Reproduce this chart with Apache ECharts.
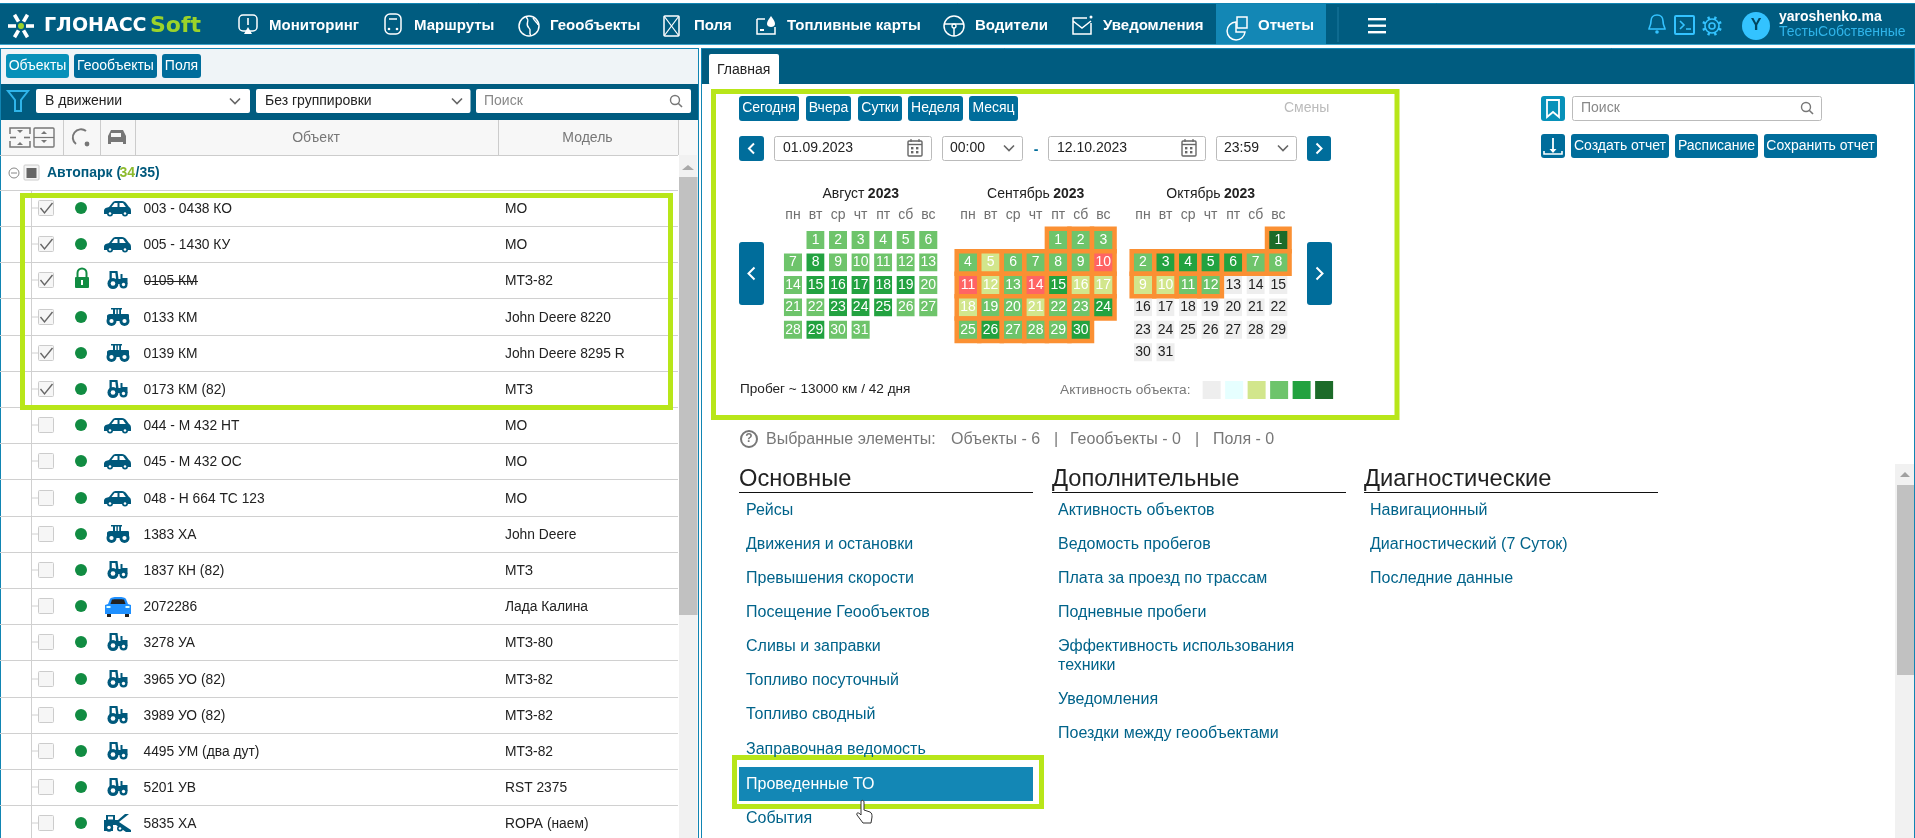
<!DOCTYPE html>
<html>
<head>
<meta charset="utf-8">
<title>Отчеты</title>
<script src="https://cdn.jsdelivr.net/npm/echarts@6/dist/echarts.min.js"></script>
<style>
html,body{margin:0;padding:0;background:#fff;}
#main{width:1915px;height:838px;}
</style>
</head>
<body>
<div id="main"></div>
<script>
// calendar data: activity level per day, 0..5 as in the legend, 6 = red day
var augLevels=[3,3,3,3,3,3,3,4,3,3,3,3,3,3,4,4,4,4,4,3,3,3,4,4,4,3,3,3,4,3,3];
var sepLevels=[3,3,3,3,2,3,3,3,3,6,6,2,3,6,4,2,2,2,3,3,2,3,3,4,3,4,3,3,3,4];
var octLevels=[5,3,4,4,4,4,3,3,2,2,3,3,0,0,0,0,0,0,0,0,0,0,0,0,0,0,0,0,0,0,0];
var calMonths=['2023-08','2023-09','2023-10'];
var calTitles=['Август','Сентябрь','Октябрь'];
var calYear='2023';
var calLevels=[augLevels,sepLevels,octLevels];
var calLefts=[781.7,956.7,1131.7];
var rangeFrom='2023-09-01';
var rangeTo='2023-10-12';
var dayNames=['вс','пн','вт','ср','чт','пт','сб'];
var levelColors=['#eeeeee','#e6ffff','#d2e68c','#6ec46b','#22a240','#1c6b29'];

// object list
var objectNames=['003 - 0438 КО','005 - 1430 КУ','0105 КМ','0133 КМ','0139 КМ','0173 КМ (82)','044 - М 432 НТ','045 - М 432 ОС','048 - Н 664 ТС 123','1383 ХА','1837 КН (82)','2072286','3278 УА','3965 УО (82)','3989 УО (82)','4495 УМ (два дут)','5201 УВ','5835 ХА'];
var objectModels=['МО','МО','МТЗ-82','John Deere 8220','John Deere 8295 R','МТЗ','МО','МО','МО','John Deere','МТЗ','Лада Калина','МТЗ-80','МТЗ-82','МТЗ-82','МТЗ-82','RST 2375','ROPA (наем)'];
var objectKinds=['car','car','small','big','big','small','car','car','car','big','small','lada','small','small','small','small','small','combine'];
var checkedCount=6;

var navItems=['Мониторинг','Маршруты','Геообъекты','Поля','Топливные карты','Водители','Уведомления','Отчеты'];
var navTextX=[269,414,550,694,787,975,1103,1258];
var linksMain=['Рейсы','Движения и остановки','Превышения скорости','Посещение Геообъектов','Сливы и заправки','Топливо посуточный','Топливо сводный','Заправочная ведомость','Проведенные ТО','События'];
var linksMainY=[511,545,579,613,647,681,715,750,785,819];
var linksExtra=['Активность объектов','Ведомость пробегов','Плата за проезд по трассам','Подневные пробеги','Эффективность использования','техники','Уведомления','Поездки между геообъектами'];
var linksExtraY=[511,545,579,613,647,666,700,734];
var linksDiag=['Навигационный','Диагностический (7 Суток)','Последние данные'];
var linksDiagY=[511,545,579];

var FONT='"Liberation Sans",Arial,sans-serif';
var DARK='#005c80', BTN='#006d9b', LIGHTBTN='#0791b9', EDGE='#1185b3', LIME='#b8e619', ORANGE='#fb9033';
var els=[];
var shapeCount=0;

function box(x,y,w,h,fill,r,stroke,lw){
	els.push({type:'rect',silent:true,shape:{x:x,y:y,width:w,height:h,r:r||0},style:{fill:fill||'none',stroke:stroke||'none',lineWidth:lw||1}});
}
function txt(x,y,s,size,color,weight,align,family){
	els.push({type:'text',silent:true,style:{x:x,y:y,text:s,fill:color||'#222',align:align||'left',verticalAlign:'middle',font:(weight||'normal')+' '+size+'px '+(family||FONT)}});
}
function seg(x1,y1,x2,y2,color,lw){
	els.push({type:'line',silent:true,shape:{x1:x1,y1:y1,x2:x2,y2:y2},style:{stroke:color,lineWidth:lw||1}});
}
function dot(cx,cy,r,fill,stroke,lw){
	els.push({type:'circle',silent:true,shape:{cx:cx,cy:cy,r:r},style:{fill:fill||'none',stroke:stroke||'none',lineWidth:lw||1}});
}
// graphic has no plain path type, so every icon outline is registered as a shape
function path(d,x,y,fill,stroke,lw){
	var name='ico'+(shapeCount++);
	echarts.graphic.registerShape(name,echarts.graphic.extendPath(d,{}));
	els.push({type:name,silent:true,x:x,y:y,style:{fill:fill||'none',stroke:stroke||'none',lineWidth:lw||1}});
}
function button(x,y,w,h,label,color){
	box(x,y,w,h,color||BTN,3);
	txt(x+w/2,y+h/2,label,14,'#fff','normal','center');
}
function chevron(cx,cy,color,dir,s){
	s=s||5;
	if(dir=='down') path('M'+(-s)+' '+(-s/2)+' L0 '+(s/2)+' L'+s+' '+(-s/2),cx,cy,null,color,1.6);
	if(dir=='left') path('M'+(s/2)+' '+(-s)+' L'+(-s/2)+' 0 L'+(s/2)+' '+s,cx,cy,null,color,2);
	if(dir=='right') path('M'+(-s/2)+' '+(-s)+' L'+(s/2)+' 0 L'+(-s/2)+' '+s,cx,cy,null,color,2);
}
function lens(cx,cy,color){
	dot(cx,cy,4.5,null,color,1.4);
	seg(cx+3.2,cy+3.2,cx+7,cy+7,color,1.6);
}
function calIcon(cx,cy){
	box(cx-7,cy-7,14,15,null,1,'#666',1.4);
	seg(cx-7,cy-3.5,cx+7,cy-3.5,'#666',1.4);
	seg(cx-4,cy-9,cx-4,cy-6,'#666',1.2);
	seg(cx+4,cy-9,cx+4,cy-6,'#666',1.2);
	box(cx-4,cy-1,2.4,2.4,'#666');box(cx+1,cy-1,2.4,2.4,'#666');
	box(cx-4,cy+3,2.4,2.4,'#666');box(cx+1,cy+3,2.4,2.4,'#666');
}
function wheel(cx,cy,r,color){
	dot(cx,cy,r,color);
	dot(cx,cy,r*0.42,'#fff');
}
function carIcon(x,y){
	var c='#00597c';
	path('M0 10 C0 7 3 6.5 5 6 L9 1 C10 0 11 0 12 0 H18 C20 0 21 1 22 2 L25 6 C26 6.5 27 7.5 27 10 V13 H0 Z',x,y,c);
	path('M7.5 6 L10.5 2 H13.5 V6 Z',x,y,'#fff');
	path('M15.5 2 H19 L21.8 6 H15.5 Z',x,y,'#fff');
	wheel(x+6,y+12.5,3,c);
	wheel(x+21,y+12.5,3,c);
}
function smallTractor(x,y){
	var c='#00597c';
	path('M2 0 H10 L11 8 H13 V3 H15 V7 H20 V13 H2 Z',x,y,c);
	path('M4.3 2 H7.8 L8.6 8 H4.3 Z',x,y,'#fff');
	wheel(x+5.5,y+12.5,5.5,c);
	wheel(x+16,y+13.5,4,c);
}
function bigTractor(x,y){
	var c='#00597c';
	path('M5 0 H16 V1.5 H15 V6 H22 C23 6 23 7 23 8 V13 H1 V8 C1 7 2 6 4 6 H7 V1.5 H5 Z',x,y,c);
	path('M9 1.5 H10.4 V6 H9 Z M11.8 1.5 H13.2 V6 H11.8 Z',x,y,'#fff');
	wheel(x+5.5,y+13,5,c);
	wheel(x+18.5,y+13,5,c);
}
function combineIcon(x,y){
	var c='#00597c';
	path('M0 6 H14 L21 0 H25 L15 8 L27 16 V18 H22 L12 11 H9 V17 H0 Z',x,y,c);
	path('M2 1 H11 V6 H2 Z',x,y,c);
	wheel(x+5,y+13.5,4.2,c);
	wheel(x+16,y+14.5,3,c);
	path('M4 2.5 H9 V5.5 H4 Z',x,y,'#fff');
}
function ladaIcon(x,y){
	var c='#1e90ff';
	box(x+2,y+16,4,4,'#222');box(x+20,y+16,4,4,'#222');
	path('M5 2 C6 0.5 8 0 13 0 C18 0 20 0.5 21 2 L23 7 L26 8 V17 H0 V8 L3 7 Z',x,y,c);
	path('M5.5 7 L7 2.5 C9 2 17 2 19 2.5 L20.5 7 Z',x,y,'#222');
	box(x+1.5,y+9,4,2,'#dff');box(x+20.5,y+9,4,2,'#dff');
}

// page frame
box(0,3,1915,41.5,DARK);
seg(0,3.5,1915,3.5,EDGE,1);
seg(0,44.5,1915,44.5,'#3da5cc',1);

// logo
for(var a=0;a<6;a++){
	var ang=a*Math.PI/3;
	seg(21+Math.cos(ang)*5,26+Math.sin(ang)*5,21+Math.cos(ang)*13,26+Math.sin(ang)*13,'#fff',3.6);
}
dot(21,26,3,'#9bd32a');
txt(44,26,'ГЛОНАСС',19,'#fff','bold','left','"DejaVu Sans"');
txt(150,26,'Soft',22,'#9bd32a','bold','left','"DejaVu Sans"');

// nav
box(1216,4,110,40,'#1387b5');
navItems.forEach(function(n,i){
	txt(navTextX[i],26,n,15,'#fff','bold');
	var ix=navTextX[i]-30;
	if(i==0){box(ix,15,18,16,null,4,'#fff',1.5);seg(ix+9,18,ix+9,25,'#fff',1.6);path('M0 0 L4 7 H-4 Z',ix+9,27,'#fff');}
	if(i==1){box(ix+1,14,16,20,null,5,'#fff',1.5);dot(ix+5,29,1.3,'#fff');dot(ix+13,29,1.3,'#fff');seg(ix+5,19,ix+13,19,'#fff',1.5);}
	if(i==2){dot(ix+9,26,10,null,'#fff',1.5);path('M-3 -9 C2 -5 -5 -2 0 2 C3 4 -1 8 2 9 M4 -8 C6 -4 9 -3 9 -1',ix+9,26,null,'#fff',1.4);}
	if(i==3){box(ix,16,15,20,null,1,'#fff',1.5);seg(ix,16,ix+15,36,'#fff',1.2);seg(ix+15,16,ix,36,'#fff',1.2);}
	if(i==4){path('M0 4 V19 H18 V12 M0 4 H8',ix,15,null,'#fff',1.5);path('M0 -7 C3 -3 4 -1 4 1 C4 3 2 4 0 4 C-2 4 -4 3 -4 1 C-4 -1 -3 -3 0 -7 Z',ix+14,23,'#fff');box(ix+3,29,4,2,'#fff');}
	if(i==5){dot(ix+9,26,10,null,'#fff',1.5);dot(ix+9,26,2,null,'#fff',1.3);seg(ix,24,ix+18,24,'#fff',1.5);seg(ix+9,28,ix+9,36,'#fff',1.5);}
	if(i==6){path('M14 0 H0 V16 H18 V5 M0 3 L9 10 L18 3',ix,18,null,'#fff',1.5);dot(ix+18,17,1.5,'#fff');}
	if(i==7){path('M8 7 A9 9 0 1 0 17 17 H8 Z',ix,15,null,'#fff',1.5);box(ix+9,17,10,11,null,0,'#fff',1.5);}
});
seg(1338,7,1338,42,'#1d7ba0',1);
box(1368,18,18,2.4,'#fff');box(1368,24.5,18,2.4,'#fff');box(1368,31,18,2.4,'#fff');

// account block
path('M0 -9 C-4 -9 -6 -6 -6 -3 C-6 2 -8 3 -8 5 H8 C8 3 6 2 6 -3 C6 -6 4 -9 0 -9 Z',1657,24,null,'#33c3ff',1.6);
dot(1657,32,1.8,'#33c3ff');
box(1675,16,19,18,null,1,'#33c3ff',2);
path('M0 0 L4 4 L0 8 M6 8 H11',1680,21,null,'#33c3ff',1.6);
dot(1712,26,3,null,'#33c3ff',1.6);
dot(1712,26,7,null,'#33c3ff',1.6);
for(var t=0;t<8;t++){
	var ta=t*Math.PI/4+Math.PI/8;
	seg(1712+Math.cos(ta)*7,26+Math.sin(ta)*7,1712+Math.cos(ta)*10,26+Math.sin(ta)*10,'#33c3ff',2.4);
}
dot(1756,26,14,'#33c3ff');
txt(1756,26,'Y',16,'#00455f','bold','center');
txt(1779,17,'yaroshenko.ma',14,'#fff','bold');
txt(1779,32,'ТестыСобственные',14,'#2fb5ea');

// left panel
box(0,48,698,36,'#eff4f7');
seg(0.5,48,0.5,838,EDGE,1);
seg(0,48.5,698,48.5,EDGE,1);
seg(698.5,48,698.5,838,EDGE,1);
button(6,54,63,24,'Объекты',LIGHTBTN);
button(74,54,83,24,'Геообъекты');
button(162,54,39,24,'Поля');
box(1,84,697,36,DARK);
path('M0 0 H20 L13 9 V20 H7 V9 Z',8,91,null,'#2fb5ea',2);
box(36,89,214,24,'#fff',2);
txt(45,101,'В движении',14,'#222');
chevron(235,101,'#666','down');
box(256,89,214.5,24,'#fff',2);
txt(265,101,'Без группировки',14,'#222');
chevron(457,101,'#666','down');
box(476,89,215,24,'#fff',2);
txt(484,101,'Поиск',14,'#888');
lens(675,100,'#777');

box(1,120,697,35,'#f7f7f7');
seg(0,155.5,678,155.5,'#ccc',1);
[63,100,135,498,678].forEach(function(x){seg(x+0.5,120,x+0.5,155,'#ccc',1);});
txt(316,138,'Объект',14,'#777','normal','center');
txt(587.5,138,'Модель',14,'#777','normal','center');
// header icons
path('M0 6 V0 H20 V6 M0 13 V19 H20 V13',10,128,null,'#777',1.5);
seg(10,137.5,16,137.5,'#777',1.6);seg(24,137.5,30,137.5,'#777',1.6);
path('M-3 0 H3 L0 3 Z',20,130,'#777');path('M-3 3 H3 L0 0 Z',20,142,'#777');
box(34,128,20,19,null,1,'#777',1.4);
path('M-3 3 H3 L0 0 Z',44,131,'#777');path('M-3 0 H3 L0 3 Z',44,140,'#777');seg(34,137.5,54,137.5,'#777',1.2);
path('M4 15 A8 8 0 1 1 14 2',72,129,null,'#777',2);dot(87,144,2.4,'#777');
path('M4 0 H16 L19 6 V14 H16 V12 H4 V14 H1 V6 Z',107,130,'#777');box(111,133,10,4,'#f7f7f7');

// group row
dot(14,173,5,null,'#888',1);seg(11,173,17,173,'#888',1);
box(24,165,15,15,'#f5f5f5',1,'#ccc',1);box(26.5,168,10,10,'#666');
txt(47,173.5,'Автопарк (',14,'#00597c','bold');
txt(119.5,173.5,'34',14,'#8dbb2e','bold');
txt(135.5,173.5,'/35)',14,'#00597c','bold');
seg(0,190.5,678,190.5,'#d0d0d0',1);
seg(31.5,191,31.5,838,'#d0d0d0',1);

var rowH=36.2;
objectNames.forEach(function(n,i){
	var cy=Math.round(208+i*rowH);
	var lineY=Math.round(226+i*rowH)+0.5;
	if(lineY<838) seg(0,lineY,678,lineY,'#d0d0d0',1);
	seg(32,cy,38,cy,'#d0d0d0',1);
	box(38.5,cy-7.5,15,15,'#f6f6f6',1,'#ccc',1);
	if(i<checkedCount) path('M0 5 L4 10 L12 0',40.5,cy-5,null,'#666',1.4);
	if(i==2){
		box(75,cy-3,14,11,'#118c42',1);
		path('M-4.5 3 V-2 A4.5 4.5 0 0 1 4.5 -2 V3',82,cy-5,null,'#118c42',2);
		box(81,cy,2,5,'#fff');
	}else{
		dot(81,cy,6,'#118c42');
	}
	var k=objectKinds[i];
	if(k=='car') carIcon(104,cy-7);
	if(k=='small') smallTractor(107.5,cy-9);
	if(k=='big') bigTractor(106,cy-9);
	if(k=='lada') ladaIcon(105,cy-9);
	if(k=='combine') combineIcon(104,cy-9);
	txt(143.5,cy+1,n,13.8,'#222');
	if(i==2) seg(144,cy+1.5,198,cy+1.5,'#222',1);
	txt(505,cy+1,objectModels[i],13.8,'#222');
});
box(679,155,18.5,683,'#f1f1f1');
box(679,177,18.5,438,'#c1c1c1');
path('M0 0 L6 5 H-6 Z',688,165,'#a8a8a8');
// lime frame around checked rows
box(22.5,195.5,648,212,null,0,LIME,5);

// right panel
box(701,48,1214,36,DARK);
seg(701.5,48,701.5,838,EDGE,1);
seg(1914.5,48,1914.5,838,EDGE,1);
seg(701,48.5,1915,48.5,EDGE,1);
box(709,54,70,31,'#fff',2);
txt(717,70,'Главная',14,'#222');

// period controls
button(739,96,60,25,'Сегодня');
button(806,96,45,25,'Вчера');
button(858,96,44,25,'Сутки');
button(908,96,55,25,'Неделя');
button(969,96,49,25,'Месяц');
txt(1284,108,'Смены',14,'#bbb');
box(739,136,25,25,BTN,3);chevron(751.5,148.5,'#fff','left');
box(774.5,136.5,157,24,'#fff',2,'#bbb',1);
txt(783,148.5,'01.09.2023',14,'#222');
calIcon(915,148);
box(942.5,136.5,80,24,'#fff',2,'#bbb',1);
txt(950,148.5,'00:00',14,'#222');
chevron(1009,148,'#666','down');
txt(1036,150,'-',14,BTN,'bold','center');
box(1048.5,136.5,157,24,'#fff',2,'#bbb',1);
txt(1057,148.5,'12.10.2023',14,'#222');
calIcon(1189,148);
box(1216.5,136.5,80,24,'#fff',2,'#bbb',1);
txt(1224,148.5,'23:59',14,'#222');
chevron(1283,148,'#666','down');
box(1307,136,24,25,BTN,3);chevron(1319,148.5,'#fff','right');
box(739,242,25,63,BTN,3);chevron(751.5,273.5,'#fff','left',6);
box(1307,242,25,63,BTN,3);chevron(1319.5,273.5,'#fff','right',6);
txt(740,389,'Пробег ~ 13000 км / 42 дня',13.6,'#222');
box(713.5,91.5,683.5,326,null,0,LIME,5);

// month titles above the calendars
calTitles.forEach(function(t,i){
	els.push({type:'text',silent:true,style:{
		x:calLefts[i]+79,y:194,align:'center',verticalAlign:'middle',
		text:'{m|'+t+'} {y|'+calYear+'}',
		rich:{m:{font:'normal 14px '+FONT,fill:'#222'},y:{font:'bold 14px '+FONT,fill:'#222'}}
	}});
});

// report controls
box(1541,96,24,25,LIGHTBTN,3);
path('M0 0 H12 V17 L6 12 L0 17 Z',1547,100,null,'#fff',1.8);
box(1572.5,96.5,249,24,'#fff',2,'#bbb',1);
txt(1581,108.5,'Поиск',14,'#888');
lens(1806,107,'#777');
box(1541,134,24,24,BTN,3);
seg(1553,138,1553,150,'#fff',1.8);path('M-3.5 0 L0 4 L3.5 0 Z',1553,149,'#fff');
path('M0 0 V3 H18 V0',1544,151,null,'#fff',1.6);
button(1571,134,98,24,'Создать отчет');
button(1675,134,83,24,'Расписание');
button(1764,134,113,24,'Сохранить отчет');

// selected counters
dot(749,439,8,null,'#777',2);
txt(749,439,'?',12,'#777','bold','center');
txt(766,440,'Выбранные элементы:',16,'#777');
txt(951,440,'Объекты - 6',16,'#777');
txt(1056,440,'|',16,'#777','normal','center');
txt(1070,440,'Геообъекты - 0',16,'#777');
txt(1197,440,'|',16,'#777','normal','center');
txt(1213,440,'Поля - 0',16,'#777');

// report lists
var heads=[['Основные',739,1033],['Дополнительные',1052,1346],['Диагностические',1364,1658]];
heads.forEach(function(h){
	txt(h[1],479,h[0],23.7,'#222');
	seg(h[1],492.5,h[2],492.5,'#111',1);
});
box(739,767,294,34,'#1387b5');
box(734.5,757.5,307,49,null,0,LIME,5);
function links(list,ys,x){
	list.forEach(function(s,i){
		txt(x,ys[i],s,16,s=='Проведенные ТО'?'#fff':'#00638a');
	});
}
links(linksMain,linksMainY,746);
links(linksExtra,linksExtraY,1058);
links(linksDiag,linksDiagY,1370);
// hand cursor
path('M4 0 C5 -1 7 -1 7 1 V9 L13 11 C15 12 15 14 15 16 L14 22 H6 L0 14 C-1 12 1 11 3 13 L4 14 Z',857,801,'#fff','#333',1);

box(1895,464,19,374,'#f1f1f1');
box(1897,485,17,190,'#c1c1c1');
path('M0 0 L5 5 H-5 Z',1905,472,'#a0a0a0');

// calendars and their day cells
function dayDate(month,i){
	return month+'-'+(i<9?'0':'')+(i+1);
}
var calendars=calMonths.map(function(m,i){
	return {
		orient:'vertical',
		range:m,
		left:calLefts[i],
		top:228.8,
		cellSize:[22.55,22.45],
		splitLine:{show:false},
		itemStyle:{color:'transparent',borderWidth:0},
		dayLabel:{firstDay:1,nameMap:dayNames,color:'#707070',fontSize:14,fontFamily:FONT,margin:7},
		monthLabel:{show:false},
		yearLabel:{show:false}
	};
});
function cellSeries(calIndex,data,border,z){
	return {
		type:'heatmap',
		coordinateSystem:'calendar',
		calendarIndex:calIndex,
		data:data,
		z:z,
		silent:true,
		itemStyle:{borderColor:border,borderWidth:4.5},
		label:{
			show:true,
			fontSize:14,
			fontFamily:FONT,
			color:'#fff',
			formatter:function(p){return +p.value[0].split('-')[2];}
		},
		emphasis:{disabled:true}
	};
}
var series=[];
calMonths.forEach(function(m,c){
	var rest=[],inRange=[];
	calLevels[c].forEach(function(lvl,i){
		var d=dayDate(m,i);
		var item={value:[d,lvl],label:{color:lvl==0?'#222':'#fff'}};
		if(d>=rangeFrom&&d<=rangeTo) inRange.push(item); else rest.push(item);
	});
	series.push(cellSeries(c,rest,'#fff',2));
	series.push(cellSeries(c,inRange,ORANGE,3));
});

var chart=echarts.init(document.getElementById('main'),null,{renderer:'canvas'});
chart.setOption({
	animation:false,
	backgroundColor:'#fff',
	textStyle:{fontFamily:FONT},
	tooltip:{show:false},
	calendar:calendars,
	visualMap:{
		type:'piecewise',
		orient:'horizontal',
		left:1060,
		top:381,
		padding:0,
		itemWidth:18,
		itemHeight:18,
		itemGap:4.5,
		itemSymbol:'rect',
		showLabel:false,
		selectedMode:false,
		hoverLink:false,
		text:['','Активность объекта:  '],
		textStyle:{color:'#777',fontSize:13.7,fontFamily:FONT},
		dimension:1,
		pieces:levelColors.map(function(c,i){return {value:i,color:c};}),
		outOfRange:{color:'#ff6464'}
	},
	series:series,
	graphic:{elements:els}
});
</script>
</body>
</html>
